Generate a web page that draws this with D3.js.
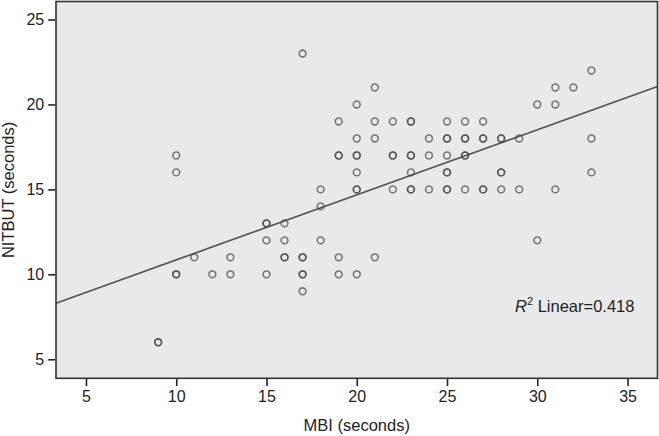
<!DOCTYPE html>
<meta charset="utf-8">
<style>
    body { margin: 0; background: #fff; }
    text {
        font-family: "Liberation Sans", Arial, sans-serif;
        fill: #222;
    }
    .axis text { font-size: 16px; fill: #222; }
    .axis path { display: none; }
    .axis line { stroke: #222; stroke-width: 1.6px; }
    .dots circle {
        fill: none;
        stroke: #4a4a4a;
        stroke-opacity: 0.72;
        stroke-width: 1.6px;
    }
</style>
<svg width="659" height="436"></svg>
<script src="https://d3js.org/d3.v7.min.js"></script>
<script>
    // MBI (x) and NITBUT (y) in seconds, repeated pairs = overlapping cases
    var mbi = [9, 9, 10, 10, 10, 10, 11, 12, 13, 13, 15, 15, 15, 15,
        16, 16, 16, 16, 17, 17, 17, 17, 17, 17, 18, 18, 18,
        19, 19, 19, 19, 19, 20, 20, 20, 20, 20, 20, 20, 20,
        21, 21, 21, 21, 22, 22, 22, 22, 23, 23, 23, 23, 23, 23, 23,
        24, 24, 24, 25, 25, 25, 25, 25, 25, 25, 25,
        26, 26, 26, 26, 26, 26, 27, 27, 27, 27, 27,
        28, 28, 28, 28, 28, 29, 29, 30, 30, 31, 31, 31, 32, 33, 33, 33];
    var nitbut = [6, 6, 17, 16, 10, 10, 11, 10, 11, 10, 13, 13, 12, 10,
        13, 12, 11, 11, 23, 11, 11, 10, 10, 9, 15, 14, 12,
        19, 17, 17, 11, 10, 20, 18, 17, 17, 16, 15, 15, 10,
        21, 19, 18, 11, 19, 17, 17, 15, 19, 19, 17, 17, 16, 15, 15,
        18, 17, 15, 19, 18, 18, 17, 16, 16, 15, 15,
        19, 18, 18, 17, 17, 15, 19, 18, 18, 15, 15,
        18, 18, 16, 16, 15, 18, 15, 20, 12, 21, 20, 15, 21, 22, 18, 16];

    var xTicks = [5, 10, 15, 20, 25, 30, 35];
    var yTicks = [5, 10, 15, 20, 25];

    // fit line
    var fitIntercept = 7.02, fitSlope = 0.383;
    var r2Label = "0.418";

    var svg = d3.select("svg");
    var plotL = 56, plotR = 657.5, plotT = 1.5, plotB = 378.3;

    var x = d3.scaleLinear().domain([3.34, 36.66]).range([plotL, plotR]);
    var y = d3.scaleLinear().domain([3.88, 26.06]).range([plotB, plotT]);

    svg.append("rect")
        .attr("x", plotL).attr("y", plotT)
        .attr("width", plotR - plotL).attr("height", plotB - plotT)
        .attr("fill", "#e9e9eb");

    var points = mbi.map(function(d, i) { return [d, nitbut[i]]; });

    var xd = x.domain();
    svg.append("line")
        .attr("x1", x(xd[0])).attr("y1", y(fitIntercept + fitSlope * xd[0]))
        .attr("x2", x(xd[1])).attr("y2", y(fitIntercept + fitSlope * xd[1]))
        .attr("stroke", "#555")
        .attr("stroke-width", 1.7);

    svg.append("g")
        .attr("class", "dots")
        .selectAll("circle")
        .data(points)
        .enter().append("circle")
        .attr("cx", function(d) { return x(d[0]); })
        .attr("cy", function(d) { return y(d[1]); })
        .attr("r", 3.4);

    svg.append("rect")
        .attr("x", plotL).attr("y", plotT)
        .attr("width", plotR - plotL).attr("height", plotB - plotT)
        .attr("fill", "none")
        .attr("stroke", "#333")
        .attr("stroke-width", 1.6);

    svg.append("g")
        .attr("class", "axis")
        .attr("transform", "translate(0," + (plotB + 0.8) + ")")
        .call(d3.axisBottom(x).tickValues(xTicks).tickSize(7).tickPadding(5));

    svg.append("g")
        .attr("class", "axis")
        .attr("transform", "translate(" + (plotL - 0.8) + ",0)")
        .call(d3.axisLeft(y).tickValues(yTicks).tickSize(7).tickPadding(4));

    svg.append("text")
        .attr("x", (plotL + plotR) / 2)
        .attr("y", 431)
        .attr("text-anchor", "middle")
        .style("font-size", "16.5px")
        .text("MBI (seconds)");

    svg.append("text")
        .attr("transform", "translate(14," + ((plotT + plotB) / 2) + ") rotate(-90)")
        .attr("text-anchor", "middle")
        .style("font-size", "16.5px")
        .text("NITBUT (seconds)");

    var r2 = svg.append("text")
        .attr("x", 515)
        .attr("y", 312)
        .style("font-size", "16.5px");
    r2.append("tspan").style("font-style", "italic").text("R");
    r2.append("tspan").attr("dy", -7).style("font-size", "11px").text("2");
    r2.append("tspan").attr("dy", 7).text(" Linear=" + r2Label);
</script>
